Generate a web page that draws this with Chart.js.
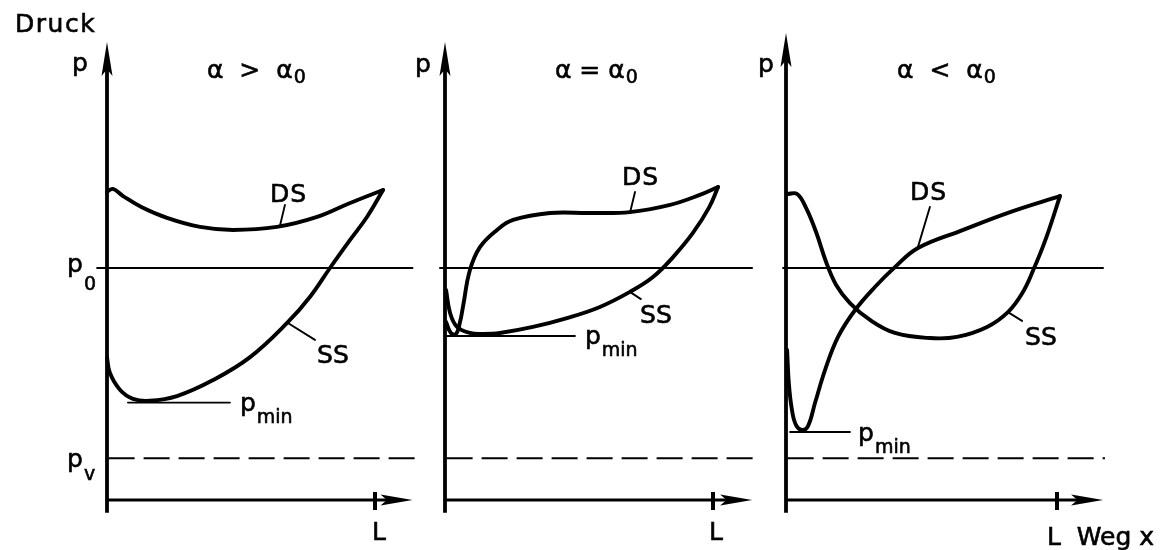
<!DOCTYPE html>
<html>
<head>
<meta charset="utf-8">
<script src="https://cdn.jsdelivr.net/npm/chart.js@4.4.1/dist/chart.umd.min.js"></script>
<style>
  html, body { margin: 0; padding: 0; background: #fff; }
  #wrap { position: relative; width: 1161px; height: 550px; }
  #wrap canvas { position: absolute; left: 0; top: 0; }
</style>
</head>
<body>
<div id="wrap">
  <canvas id="c1" width="1161" height="550"></canvas>
  <canvas id="c2" width="1161" height="550"></canvas>
  <canvas id="c3" width="1161" height="550"></canvas>
</div>
<script>
// =======================
// Data (x in units of L, p in units of p0)
// =======================
const L = 1.0;
const P0 = 1.0;
const PV = 0.18;

// alpha > alpha0
const ds1 = [[0,1.328],[0.022,1.341],[0.06,1.31],[0.13,1.262],[0.224,1.216],[0.347,1.177],[0.47,1.164],[0.634,1.177],[0.784,1.22],[0.907,1.28],[1.03,1.336]];
const ss1 = [[0,0.616],[0.011,0.547],[0.049,0.474],[0.097,0.436],[0.16,0.428],[0.261,0.448],[0.396,0.517],[0.534,0.616],[0.672,0.763],[0.757,0.875],[0.832,1.0],[0.907,1.121],[0.97,1.22],[1.03,1.336]];
const pmin1 = 0.42;

// alpha = alpha0
const ds2 = [[0.004,0.767],[0.022,0.72],[0.041,0.716],[0.056,0.767],[0.067,0.832],[0.093,0.991],[0.131,1.091],[0.194,1.164],[0.254,1.207],[0.392,1.237],[0.541,1.237],[0.69,1.241],[0.84,1.272],[0.951,1.315],[1.019,1.349]];
const ss2 = [[0.004,0.905],[0.019,0.806],[0.045,0.746],[0.093,0.72],[0.142,0.716],[0.205,0.72],[0.328,0.746],[0.455,0.784],[0.578,0.832],[0.69,0.897],[0.776,0.961],[0.851,1.047],[0.925,1.151],[0.985,1.26],[1.019,1.349]];
const pmin2 = 0.707;

// alpha < alpha0
const ds3 = [[0.004,0.647],[0.011,0.496],[0.022,0.388],[0.037,0.323],[0.059,0.302],[0.081,0.318],[0.107,0.418],[0.144,0.56],[0.192,0.703],[0.255,0.819],[0.328,0.918],[0.402,1.004],[0.487,1.086],[0.642,1.159],[0.827,1.241],[1.011,1.31]];
const ss3 = [[0.004,1.319],[0.041,1.319],[0.074,1.259],[0.111,1.155],[0.148,1.026],[0.185,0.927],[0.236,0.849],[0.31,0.776],[0.402,0.72],[0.531,0.698],[0.631,0.703],[0.742,0.746],[0.819,0.81],[0.871,0.89],[0.912,0.99],[0.96,1.13],[1.011,1.31]];
const pmin3 = 0.293;

// leader lines [from, to]
const lead1 = { ds: [[0.664,1.272],[0.646,1.185]], ss: [[0.675,0.763],[0.776,0.69]], pmin: [0.078,0.459] };
const lead2 = { ds: [[0.709,1.328],[0.69,1.237]], ss: [[0.69,0.897],[0.731,0.866]], pmin: [0.007,0.485] };
const lead3 = { ds: [[0.531,1.263],[0.487,1.091]], ss: [[0.819,0.81],[0.871,0.772]], pmin: [0.015,0.236] };

// =======================
// Layout / style
// =======================
const INK = "#000";
const FONT = '"DejaVu Sans", sans-serif';
const Y0PX = 500, UY = 232;         // pixel row of p=0, pixels per p0
const Y_MIN = -0.1, Y_MAX = 2.055;
const X_MIN = -0.1, X_MAX = 1.2;

const pts = a => a.map(([x, y]) => ({ x, y }));
const seg = (x1, x2, y) => [{ x: x1, y }, { x: x2, y }];

const schematic = {
  id: "schematic",
  afterDatasetsDraw(chart, args, o) {
    const { ctx } = chart;
    const px = v => chart.scales.x.getPixelForValue(v);
    const py = v => chart.scales.y.getPixelForValue(v);
    ctx.save();
    ctx.strokeStyle = INK; ctx.fillStyle = INK;
    ctx.lineCap = "butt";
    // y axis + arrow
    const ax = px(0);
    ctx.lineWidth = 3.8;
    ctx.beginPath(); ctx.moveTo(ax, py(-0.055)); ctx.lineTo(ax, py(o.yTip) + 20); ctx.stroke();
    arrow(ctx, ax, py(o.yTip), 0, -1, 34, 5.5);
    // x axis + arrow
    const ay = py(0);
    ctx.lineWidth = 3.2;
    ctx.beginPath(); ctx.moveTo(ax, ay); ctx.lineTo(px(o.xTip) - 20, ay); ctx.stroke();
    arrow(ctx, px(o.xTip), ay, 1, 0, 32, 5.5);
    // L tick
    ctx.lineWidth = 4;
    ctx.beginPath(); ctx.moveTo(px(L), ay - 8); ctx.lineTo(px(L), ay + 10); ctx.stroke();
    ctx.restore();
  },
  afterDraw(chart, args, o) {
    const { ctx } = chart;
    const px = v => chart.scales.x.getPixelForValue(v);
    const py = v => chart.scales.y.getPixelForValue(v);
    ctx.save();
    ctx.fillStyle = INK; ctx.strokeStyle = INK;
    ctx.lineWidth = 0.6;
    ctx.textBaseline = "alphabetic";
    o.labels.forEach(l => {
      ctx.font = "25px " + FONT;
      ctx.letterSpacing = l.ls || "0px";
      const x = px(l.x), y = py(l.y);
      ctx.fillText(l.t, x, y);
      ctx.strokeText(l.t, x, y);
      if (l.s) {
        const w = ctx.measureText(l.t).width;
        ctx.font = "19px " + FONT;
        ctx.letterSpacing = "0px";
        ctx.fillText(l.s, x + w + 1, y + l.dy);
        ctx.strokeText(l.s, x + w + 1, y + l.dy);
      }
    });
    ctx.restore();
  }
};

function arrow(ctx, tx, ty, dx, dy, len, hw) {
  const nx = -dy, ny = dx;
  ctx.beginPath();
  ctx.moveTo(tx, ty);
  ctx.lineTo(tx - dx * len + nx * hw, ty - dy * len + ny * hw);
  ctx.lineTo(tx - dx * len * 0.8, ty - dy * len * 0.8);
  ctx.lineTo(tx - dx * len - nx * hw, ty - dy * len - ny * hw);
  ctx.closePath();
  ctx.fill();
}

function makePanel(id, axisPx, unitPx, ds, ss, pmin, lead, opts) {
  const line = (data, w, dash, tension) => ({
    data, showLine: true, borderColor: INK, borderWidth: w, borderDash: dash || [],
    pointRadius: 0, fill: false, clip: false, tension: tension || 0,
    borderCapStyle: "round", borderJoinStyle: "round"
  });
  const left = axisPx + X_MIN * unitPx;
  const width = (X_MAX - X_MIN) * unitPx;
  return new Chart(document.getElementById(id), {
    type: "scatter",
    data: {
      datasets: [
        line(seg(opts.p0From, opts.xTip, P0), 1.8),
        { ...line(seg(0.006, opts.pvTo, PV), 1.8, [26, 9]), borderCapStyle: "butt" },
        line(seg(lead.pmin[0], lead.pmin[1], pmin), 1.8),
        line(pts(lead.ds), 1.9),
        line(pts(lead.ss), 1.9),
        line(pts(ds), 3.9, null, 0.4),
        line(pts(ss), 3.9, null, 0.4)
      ]
    },
    options: {
      responsive: false,
      animation: false,
      events: [],
      layout: { padding: {
        left: left,
        right: 1161 - left - width,
        top: Y0PX - Y_MAX * UY,
        bottom: 550 - (Y0PX - Y_MIN * UY)
      } },
      scales: {
        x: { type: "linear", min: X_MIN, max: X_MAX, display: false },
        y: { type: "linear", min: Y_MIN, max: Y_MAX, display: false }
      },
      plugins: {
        legend: { display: false },
        tooltip: { enabled: false },
        schematic: { yTip: opts.yTip, xTip: opts.xTip, labels: opts.labels }
      }
    },
    plugins: [schematic]
  });
}

// =======================
// Panels
// =======================
makePanel("c1", 107, 268, ds1, ss1, pmin1, lead1, {
  yTip: 1.974, xTip: 1.14, p0From: -0.037, pvTo: 1.148,
  labels: [
    { t: "Druck", x: -0.343, y: 2.017, ls: "1.5px" },
    { t: "p", x: -0.131, y: 1.849 },
    { t: "α  >  α", s: "0", dy: 5, x: 0.373, y: 1.819 },
    { t: "DS", x: 0.608, y: 1.284, ls: "1px" },
    { t: "SS", x: 0.784, y: 0.591 },
    { t: "p", s: "min", dy: 12, x: 0.496, y: 0.384 },
    { t: "p", s: "0", dy: 18, x: -0.149, y: 0.983 },
    { t: "p", s: "v", dy: 13, x: -0.149, y: 0.142 },
    { t: "L", x: 0.989, y: -0.172 }
  ]
});

makePanel("c2", 445, 268, ds2, ss2, pmin2, lead2, {
  yTip: 1.974, xTip: 1.146, p0From: -0.019, pvTo: 1.163,
  labels: [
    { t: "p", x: -0.112, y: 1.845 },
    { t: "α = α", s: "0", dy: 5, x: 0.41, y: 1.819 },
    { t: "DS", x: 0.66, y: 1.358, ls: "1px" },
    { t: "SS", x: 0.728, y: 0.763 },
    { t: "p", s: "min", dy: 12, x: 0.522, y: 0.672 },
    { t: "L", x: 0.985, y: -0.172 }
  ]
});

makePanel("c3", 786, 271, ds3, ss3, pmin3, lead3, {
  yTip: 2.013, xTip: 1.17, p0From: -0.011, pvTo: 1.177,
  labels: [
    { t: "p", x: -0.103, y: 1.845 },
    { t: "α  <  α", s: "0", dy: 5, x: 0.41, y: 1.819 },
    { t: "DS", x: 0.458, y: 1.293, ls: "1px" },
    { t: "SS", x: 0.882, y: 0.668 },
    { t: "p", s: "min", dy: 12, x: 0.266, y: 0.254 },
    { t: "L  Weg x", x: 0.963, y: -0.194 }
  ]
});
</script>
</body>
</html>
